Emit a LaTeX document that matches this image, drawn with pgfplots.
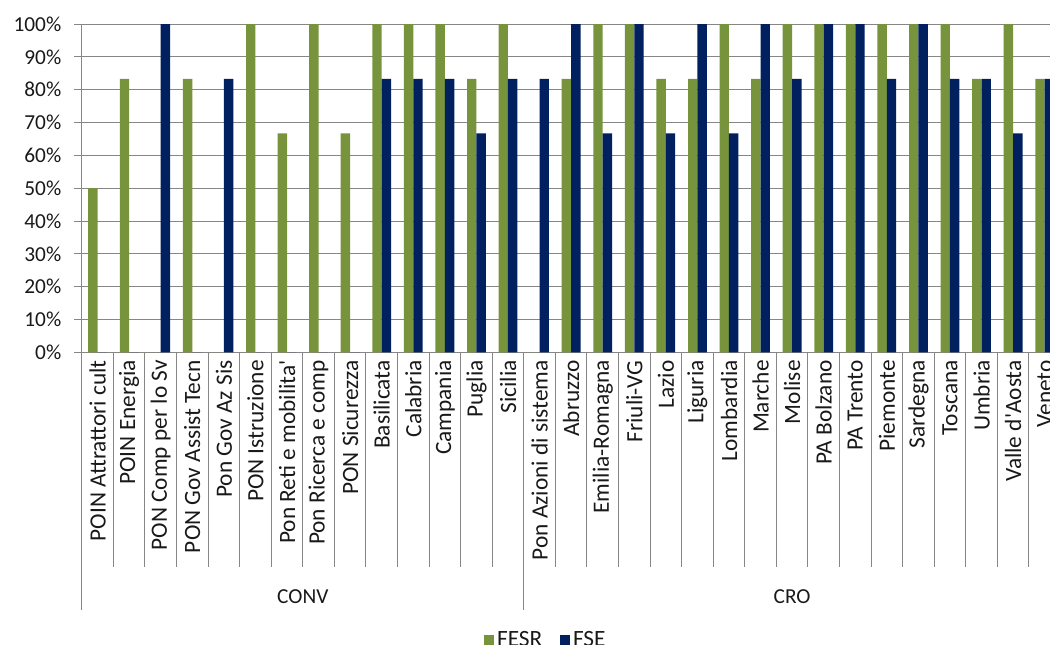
\documentclass[border=0pt]{standalone}
\usepackage{pgfplots}
\pgfplotsset{compat=1.18}
\usepackage{fontspec}
\setmainfont{Carlito}
\definecolor{fesr}{RGB}{119,147,60}
\definecolor{fse}{RGB}{0,32,96}
\definecolor{gridgray}{RGB}{134,134,134}
\definecolor{txt}{RGB}{25,25,25}
\newcommand{\lblfont}{\fontsize{16}{19}\selectfont}
\newcommand{\catfont}{\fontsize{17.5}{21}\selectfont}
\newcommand{\q}{\textquotesingle}

\begin{document}
\begin{tikzpicture}
\begin{axis}[
    name=ax,
    scale only axis,
    clip=false,
    width=734pt, height=246.2pt,
    ybar=0pt, bar width=7.05pt,
    xmin=0.5, xmax=31.5, ymin=0, ymax=100,
    axis lines*=left,
    axis line style={gridgray, line width=0.75pt},
    ymajorgrids,
    grid style={gridgray, line width=0.75pt},
    tick align=outside,
    major tick length=5.8pt,
    tick style={gridgray, line width=0.75pt},
    ytick={0,10,...,100},
    yticklabels={0\%,10\%,20\%,30\%,40\%,50\%,60\%,70\%,80\%,90\%,100\%},
    yticklabel style={font=\lblfont, text=txt, anchor=east, inner sep=0pt, xshift=-9.4pt},
    xtick={1,...,31},
    xtick style={draw=none},
    xticklabels={POIN Attrattori cult, POIN Energia, PON Comp per lo Sv,
        PON Gov Assist Tecn, Pon Gov Az Sis, PON Istruzione,
        Pon Reti e mobilita\q, Pon Ricerca e comp, PON Sicurezza,
        Basilicata, Calabria, Campania, Puglia, Sicilia,
        Pon Azioni di sistema, Abruzzo, Emilia-Romagna, Friuli-VG, Lazio,
        Liguria, Lombardia, Marche, Molise, PA Bolzano, PA Trento,
        Piemonte, Sardegna, Toscana, Umbria, Valle d\q Aosta, Veneto},
    xticklabel style={font=\catfont, text=txt, rotate=90, anchor=east, inner sep=0pt},
    legend image code/.code={\fill[#1] (0pt,-4pt) rectangle (8pt,4pt);},
    legend style={draw=none, fill=none, font=\catfont, text=txt,
        at={(axis description cs:0.4743,-0.877)}, anchor=center,
        legend columns=2,
        /tikz/every even column/.append style={column sep=11pt}},
]
% FESR
\addplot[fill=fesr, draw=none] coordinates {
    (1,50) (2,83.3) (3,0) (4,83.3) (5,0) (6,100) (7,66.7) (8,100) (9,66.7)
    (10,100) (11,100) (12,100) (13,83.3) (14,100)
    (15,0) (16,83.3) (17,100) (18,100) (19,83.3) (20,83.3) (21,100) (22,83.3)
    (23,100) (24,100) (25,100) (26,100) (27,100) (28,100) (29,83.3) (30,100) (31,83.3)};
% FSE
\addplot[fill=fse, draw=none] coordinates {
    (1,0) (2,0) (3,100) (4,0) (5,83.3) (6,0) (7,0) (8,0) (9,0)
    (10,83.3) (11,83.3) (12,83.3) (13,66.7) (14,83.3)
    (15,83.3) (16,100) (17,66.7) (18,100) (19,66.7) (20,100) (21,66.7) (22,100)
    (23,83.3) (24,100) (25,100) (26,83.3) (27,100) (28,83.3) (29,83.3) (30,66.7) (31,83.3)};
\legend{FESR,FSE}

% category separators
\pgfplotsinvokeforeach{1.5,2.5,...,30.5}{
    \draw[gridgray, line width=0.75pt] (axis cs:#1,0) -- ++(0pt,-160.65pt);
}
% group separators
\pgfplotsinvokeforeach{0.5,14.5,31.5}{
    \draw[gridgray, line width=0.75pt] (axis cs:#1,0) -- ++(0pt,-193.6pt);
}
\node[font=\lblfont, text=txt] at ([yshift=-183.5pt]axis cs:7.5,0) {CONV};
\node[font=\lblfont, text=txt] at ([yshift=-183.5pt]axis cs:23,0) {CRO};
\end{axis}
\pgfresetboundingbox
\path[use as bounding box] ([xshift=-61.35pt, yshift=-219.5pt]ax.south west) rectangle ++(787.5pt,483.75pt);
\end{tikzpicture}
\end{document}
